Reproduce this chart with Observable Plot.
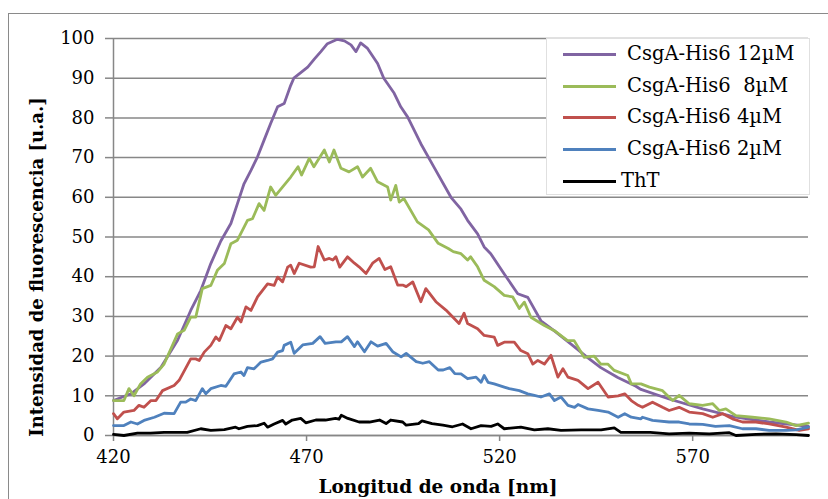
<!DOCTYPE html>
<html>
<head>
<meta charset="utf-8">
<script src="https://cdn.jsdelivr.net/npm/d3@7"></script>
<script src="https://cdn.jsdelivr.net/npm/@observablehq/plot@0.6"></script>
<style>
  html, body { margin: 0; padding: 0; background: #fff; }
  #wrap { position: relative; width: 828px; height: 499px; overflow: hidden; }
  #frame { position: absolute; left: 8px; top: 13px; width: 830px; height: 500px; border: 1.5px solid #8a8a8a; box-sizing: border-box; }
  #chart { position: absolute; left: 0; top: 0; }
  #legend { position: absolute; left: 546px; top: 38px; width: 264px; height: 157px; background: #fff; border: 1px solid #e0e0e0; box-sizing: border-box; font-family: "DejaVu Serif", serif; font-size: 19.5px; color: #000; }
  .item { position: absolute; left: 0; height: 26px; width: 262px; }
  .item .sw { position: absolute; left: 16px; top: 12px; width: 53px; height: 3px; }
  .item .lb { position: absolute; left: 80px; top: 0; white-space: pre; line-height: 26px; }
</style>
</head>
<body>
<div id="wrap">
  <div id="frame"></div>
  <div id="chart"></div>
  <div id="legend"></div>
</div>
<script>
// ---- data ----
const seriesNames = ["CsgA-His6 12\u00b5M", "CsgA-His6  8\u00b5M", "CsgA-His6 4\u00b5M", "CsgA-His6 2\u00b5M", "ThT"];
const seriesColors = ["#8064A2", "#9BBB59", "#C0504D", "#4F81BD", "#000000"];
const xTicks = [420, 470, 520, 570];
const yTicks = [0, 10, 20, 30, 40, 50, 60, 70, 80, 90, 100];

const wl12 = [420,424.5,427.9,432.3,436.6,440,442.6,445.2,447.8,450.4,452.1,453.8,455.6,457.3,459,460.7,462.5,464.2,465.9,466.7,470.3,472,473.7,475.4,478,479.8,481.5,482.8,484,485.8,488.4,490,492.7,494.4,496.2,499.6,503,507.4,510,511.7,514.3,516,517.7,521.2,524.7,527.3,530.7,534.1,538.5,542.8,546.2,550.6,555.3,556.6,563.9,572.6,581.2,589.8,600];
const v12 = [8.8,10.5,13,17.2,24,31.5,36.5,43.3,49,53.4,58.4,63.4,66.8,70.2,74.4,78.6,82.8,83.6,88.2,90,92.8,94.8,96.7,98.7,99.8,99.4,98.4,96.7,98.9,97.5,93.7,90,86.2,82.8,80.2,73.5,67.6,60,57,54.2,50.8,47.5,45.8,40.7,35.7,34.8,28.9,26.4,23,19.6,17.1,14.6,12.4,11.6,9.2,6.7,4.6,3.4,2.3];

const wl8 = [420,422.7,424,425.3,427,428.8,431.4,433.1,436.6,438.3,440,441.3,443,445.2,446.9,448.7,450.4,452.1,454.7,456,457.7,459,460.7,462,465.9,467.8,468.7,470.7,471.9,474.6,475.9,477.1,478.9,481,483.2,484.5,486.6,488.4,491,491.8,493.1,494,495.2,498.7,501.6,504.1,506.7,508,510,511.7,512.5,514.3,516,518.6,521.2,523.4,525.1,526.4,528.1,531.6,534.2,537.6,539.3,541.9,544.5,546.2,548,549.7,553.2,554.1,556.6,558.8,562.2,564.8,566.5,569.1,572.6,575.2,576.9,578.6,581.2,585.5,589.8,594.2,596.8,600];
const v8 = [8.8,8.8,11.8,10,13,14.7,16,18,25.6,26.5,29.8,29.8,37,37.8,41.6,43.3,48.3,49.2,54.2,54.6,58.4,56.7,62.6,60.5,65.1,67.7,65.6,69.8,67.7,71.9,68.9,71.9,67.3,66.4,67.7,65.1,67.3,63.9,62.6,59.3,63,58.8,59.7,53.8,51.8,48.4,47.1,46.3,45.8,44.2,45,42.5,39.1,37.5,35.3,34.9,32,33.6,29.8,27.7,26.4,23.9,23.9,19.7,20,18,18,16.4,15.1,13,13,12.2,11.3,8.8,10.1,8,7.6,8,6.3,6.7,5,4.6,4.2,3.4,2.5,3.1];

const wl4 = [420,421,422.7,425.3,426.6,427.9,429.7,431,432.7,435.7,437,440,441.3,442.2,443.5,445.2,446.5,447.4,449.1,450.4,452.1,453,454.3,455.6,457.3,459.9,461.6,462.5,463.8,465.1,465.9,466.8,468.1,471.1,472,473,474.6,475.9,476.8,477.6,478.6,480.6,482.4,483.6,485.4,487.1,488.8,490.3,491.8,493.6,494.9,495.8,497.5,499.6,500.9,503.5,506.1,509.5,510.8,511.7,514.3,516,518.6,519.5,521.2,523.8,525.5,527.3,528.6,529.9,531.6,533.3,535.1,536.4,537.7,540.3,542.9,545.5,548.1,550.7,552.4,554.1,555.9,557,559.6,562.2,563.9,566.5,569.1,572.6,575.2,577.8,580.3,582.9,586.4,589.8,594.2,597.6,600];
const v4 = [5.5,4.2,5.9,6.3,7.6,7.1,8.8,8.8,11.3,12.6,13.9,19.3,19.3,18.9,21,22.7,24.8,23.9,27.7,26.9,29.8,28.6,32.4,31.5,34.9,38.2,37.8,39.9,38.7,42.4,42.9,40.8,43.4,42.4,42.5,47.6,44.2,44.6,44.2,45,42.4,45,43.4,42.5,40.8,43.4,44.6,41.8,42.5,37.9,37.9,37.5,38.7,33.7,37,33.7,31.6,28.2,30.8,28.2,26.9,25.2,24.8,22.7,23.5,23.5,21.4,20.6,18,18.9,18,20.2,14.7,16.8,14.7,13.9,11.8,13.4,9.7,10,10.5,8.8,7.6,7.1,8.4,7.1,6.3,7.1,5.9,5.5,4.6,5.5,4.2,3.4,3.4,2.9,2.1,1.3,1.7];

const wl2 = [420,422.7,424.5,426.2,427.9,430.6,433.1,435.7,437.4,438.7,440,441.3,443,443.9,445.2,447.8,449.1,451.2,453,453.8,454.7,456.4,458.2,459.9,461.2,462.5,463.8,464.2,465.9,466.8,469,471.6,473.5,474.8,477.6,479,480.6,482.4,483.2,485,486.7,488.4,490.6,492.3,494.5,495.8,498.4,500.1,501.8,504.1,505.4,507.1,508.4,510,511.7,513.9,515.2,516,517,518.6,521.2,522.5,525.1,527.3,529,530.7,532.9,534.2,535.9,537.7,539.4,540.3,542.9,545.5,548.1,550.7,552.4,554.1,556.6,557,559.6,563.9,566.5,569.1,572.6,575.9,579.5,582.9,586.4,589.8,594.2,596.8,600];
const v2 = [2.5,2.5,3.4,2.9,3.8,4.6,5.6,5.5,8.4,8.4,9.2,8.8,11.8,10.5,11.8,12.6,12.4,15.5,16,15.1,17.1,16.8,18.5,18.9,19.3,21,21.4,22.7,23.5,20.7,22.8,23.2,24.9,23.2,23.6,23.6,24.9,22.4,23.6,21.1,23.6,22.5,23.2,21.1,19.8,20.7,18.6,18.2,18.6,16.5,16.5,17.1,15.6,15.5,14.3,14.7,13.4,15.1,13.4,13,12.2,11.8,11.3,10.5,10.1,9.7,10.5,8.8,9.7,7.6,7.1,7.8,6.7,6.3,5.9,4.6,5.5,4.6,4.2,4.6,3.8,3.4,3.4,2.9,2.8,2.3,2.5,1.7,1.7,1.3,1.3,1.4,2.1];

const wlT = [420,422.7,426.2,429.6,433.1,436.6,439.1,442.6,445.2,448.7,451.6,452.5,454.7,457.3,459,459.9,461.6,463.8,464.6,466.3,468.5,469.8,472.4,474.9,477.5,478.4,479,480.7,483.6,486.3,488.9,490.6,491.8,494.9,495.8,499,499.9,502.5,505.3,507.8,510.4,512.6,515.2,517.8,519.5,521.2,525.5,529,532.5,535.9,541.1,546.3,549.7,551.4,556.6,559,563.9,569.1,574.3,579.5,581.2,586.4,591.6,596.8,600];
const vT = [0.3,0,0.6,0.6,0.8,0.8,0.8,1.7,1.3,1.5,2.1,1.7,2.3,2.5,3.1,2.1,2.9,3.8,2.9,3.9,4.3,3.2,3.9,3.9,4.3,4.1,5.1,4.3,3.4,3.4,3.9,3,3.9,3.4,2.6,3,3.7,3,2.6,2.2,2.9,1.7,2.5,2.3,2.9,1.7,2.1,1.4,1.7,1.3,1.4,1.4,1.9,0.8,0.8,0.8,0.4,0.6,0.4,0.7,0,0.3,0.4,0.2,0];

const seriesX = [wl12, wl8, wl4, wl2, wlT];
const seriesY = [v12, v8, v4, v2, vT];

// ---- chart ----
const gridColor = "#878787";
const lineMarks = seriesX.map((xs, i) =>
  Plot.line(xs, {x: xs, y: seriesY[i], stroke: seriesColors[i], strokeWidth: 2.8, strokeLinejoin: "round", strokeLinecap: "round"})
);

const chart = Plot.plot({
  width: 828,
  height: 499,
  marginLeft: 113,
  marginRight: 20,
  marginTop: 38,
  marginBottom: 64,
  style: {fontFamily: "DejaVu Serif, serif", fontSize: "18px", color: "#000", background: "transparent"},
  x: {domain: [420, 600]},
  y: {domain: [0, 100]},
  marks: [
    Plot.gridY(yTicks, {stroke: gridColor, strokeOpacity: 1, strokeWidth: 1.5}),
    Plot.axisY(yTicks, {tickSize: 8, tickPadding: 11, stroke: gridColor, strokeWidth: 1.5, label: null, fontSize: 18}),
    Plot.axisX(xTicks, {tickSize: 6, tickPadding: 9, stroke: gridColor, strokeWidth: 1.5, label: null, fontSize: 18}),
    Plot.ruleX([420], {stroke: gridColor, strokeWidth: 1.5}),
    Plot.ruleY([0], {stroke: gridColor, strokeWidth: 1.5}),
    ...lineMarks
  ]
});
chart.style.overflow = "visible";

// axis titles as SVG text
const ns = "http://www.w3.org/2000/svg";
const yTitle = document.createElementNS(ns, "text");
yTitle.setAttribute("transform", "translate(43,267) rotate(-90)");
yTitle.setAttribute("text-anchor", "middle");
yTitle.setAttribute("font-weight", "bold");
yTitle.setAttribute("font-size", "18");
yTitle.setAttribute("font-family", "DejaVu Serif, serif");
yTitle.textContent = "Intensidad de fluorescencia [u.a.]";
chart.appendChild(yTitle);

const xTitle = document.createElementNS(ns, "text");
xTitle.setAttribute("x", "438");
xTitle.setAttribute("y", "493");
xTitle.setAttribute("text-anchor", "middle");
xTitle.setAttribute("font-weight", "bold");
xTitle.setAttribute("font-size", "18.5");
xTitle.setAttribute("font-family", "DejaVu Serif, serif");
xTitle.textContent = "Longitud de onda [nm]";
chart.appendChild(xTitle);

document.getElementById("chart").appendChild(chart);

// legend
const legend = document.getElementById("legend");
const rowCenters = [15, 47, 78, 110, 142];
seriesNames.forEach((name, i) => {
  const item = document.createElement("div");
  item.className = "item";
  item.style.top = (rowCenters[i] - 13) + "px";
  const sw = document.createElement("div");
  sw.className = "sw";
  sw.style.background = seriesColors[i];
  const lb = document.createElement("div");
  lb.className = "lb";
  if (i === 4) lb.style.left = "74px";
  lb.textContent = name;
  item.appendChild(sw);
  item.appendChild(lb);
  legend.appendChild(item);
});
</script>
</body>
</html>
